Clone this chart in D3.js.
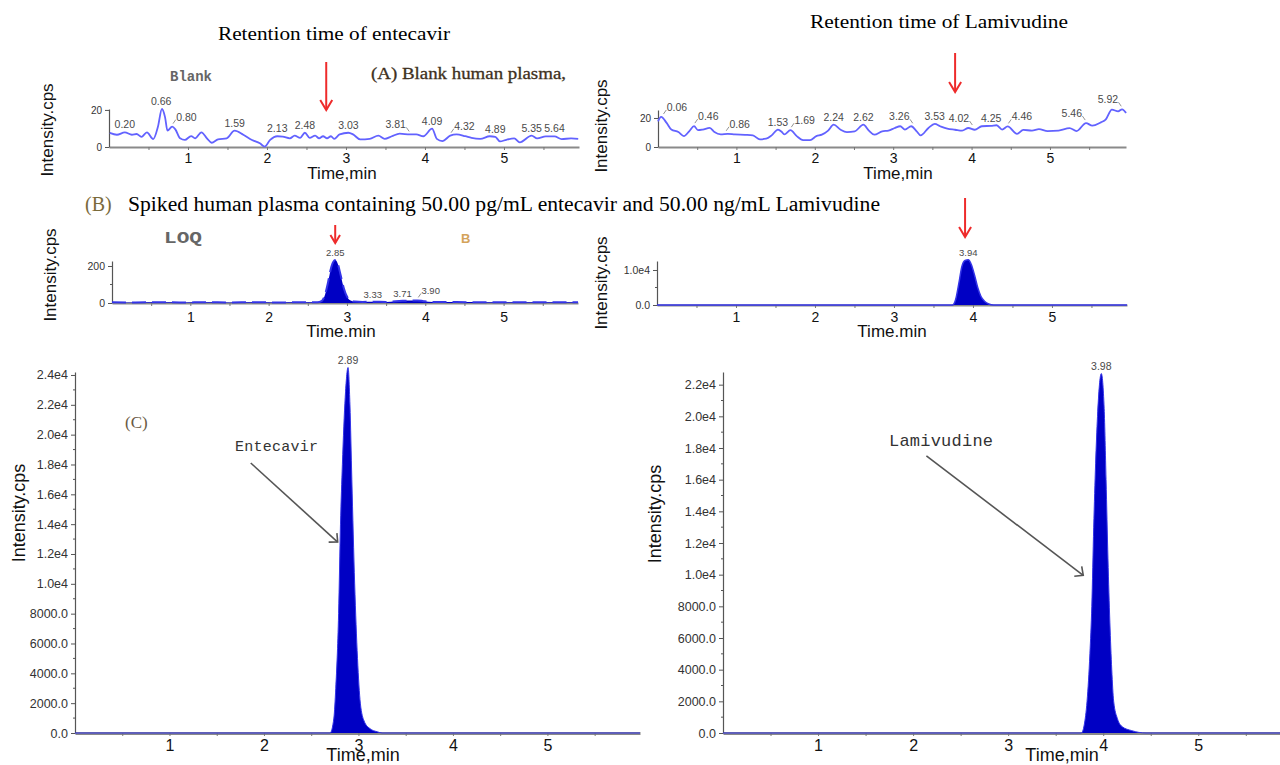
<!DOCTYPE html>
<html>
<head>
<meta charset="utf-8">
<script src="https://cdn.jsdelivr.net/npm/d3@7/dist/d3.min.js"></script>
<style>
  body { margin: 0; background: #fff; }
  svg { display: block; font-family: "Liberation Sans", Arial, sans-serif; }
</style>
</head>
<body>
<svg id="vis" width="1280" height="765"></svg>
<script>
// ---- chromatogram data (time in min, intensity in cps) ----

// (A) blank plasma, entecavir channel
const blankEntTime = [0.01,0.10,0.20,0.29,0.35,0.41,0.48,0.56,0.62,0.67,0.71,0.74,0.80,0.84,0.90,0.96,1.04,1.09,1.17,1.24,
  1.30,1.38,1.49,1.59,1.70,1.81,1.91,1.97,2.04,2.13,2.20,2.29,2.35,2.42,2.48,2.54,2.61,2.66,2.71,2.76,
  2.81,2.85,2.92,3.03,3.09,3.18,3.30,3.41,3.49,3.58,3.68,3.81,3.89,3.98,4.09,4.15,4.22,4.32,4.40,4.51,
  4.59,4.70,4.82,4.89,4.95,5.03,5.13,5.20,5.35,5.42,5.53,5.64,5.73,5.85,5.94];
const blankEntInt = [7.6,6.6,7.9,6.6,7.0,5.5,7.9,4.3,11,20.5,16,8.8,11,9.5,4.7,3.8,5.9,4.7,7.9,4.7,
  2.3,4.1,4.7,8.8,6.6,3.8,2.0,0.2,3.8,5.8,5.6,4.7,6.1,4.9,7.7,4.9,6.1,4.7,5.8,4.7,
  5.8,4.4,6.8,7.7,6.8,4.1,4.4,6.1,4.4,5.8,7.2,6.8,6.8,5.8,9.9,4.4,3.2,6.1,6.8,5.8,
  4.9,4.4,5.8,5.5,3.0,3.9,4.6,2.5,6.1,4.6,5.7,5.7,4.3,4.6,4.4];
const blankEntPeaks = ["0.20","0.66","0.80","1.59","2.13","2.48","3.03","3.81","4.09","4.32","4.89","5.35","5.64"];

// (A) blank plasma, lamivudine channel
const blankLamTime = [0.00,0.04,0.11,0.17,0.26,0.33,0.40,0.46,0.51,0.57,0.66,0.72,0.80,0.89,0.98,1.11,1.21,1.30,1.38,1.45,
  1.53,1.58,1.61,1.69,1.77,1.85,1.94,2.02,2.09,2.17,2.24,2.33,2.41,2.51,2.62,2.69,2.76,2.86,2.94,3.02,
  3.09,3.15,3.23,3.30,3.35,3.45,3.53,3.60,3.69,3.79,3.88,3.96,4.04,4.13,4.25,4.32,4.39,4.46,4.58,4.66,
  4.77,4.86,4.97,5.11,5.25,5.34,5.46,5.54,5.65,5.71,5.79,5.87,5.92,5.97];
const blankLamInt = [17.7,20.7,16.6,12,10.3,7.5,11,14.4,11.6,12,13.2,10.3,8.7,9.1,8.7,8.4,8,5.3,5.7,8,
  12,10.3,8.7,11.6,7.5,4.8,4.8,7.5,8.5,11.3,15.4,11.9,10.3,10.8,15.4,11.3,8.5,10.8,11.3,13.1,
  14.3,12,14.3,10.8,8,13.1,15.9,14.3,12.6,11.9,11.3,13.1,11.9,14.3,14.6,15,12,14.2,9,11.8,
  11.3,12.3,11,11.3,13,11,16.5,14.7,17,18.8,25.7,24.6,26,23.5];
const blankLamPeaks = ["0.06","0.46","0.86","1.53","1.69","2.24","2.62","3.26","3.53","4.02","4.25","4.46","5.46","5.92"];

// (B) LOQ sample
const loqEntTime = [0.00,0.30,0.60,0.90,1.20,1.50,1.80,2.10,2.40,2.62,2.68,2.72,2.76,2.80,2.85,2.88,2.92,2.96,3.00,3.04,
  3.10,3.20,3.33,3.50,3.62,3.71,3.80,3.90,3.98,4.10,4.40,4.80,5.20,5.60,5.95];
const loqEntInt = [4,3,4,3,4,3,4,3,4,4,12,45,115,195,232,215,150,80,35,15,
  8,6,7,6,10,12,13,14,10,6,5,4,4,4,4];
const loqEntPeaks = ["2.85","3.33","3.71","3.90"];

const loqLamTime = [0.00,3.74,3.78,3.82,3.86,3.90,3.94,3.98,4.02,4.06,4.10,4.15,4.20,4.26,5.95];
const loqLamInt = [0,0,1500,6000,11000,12700,12900,11500,8500,5000,2500,1000,300,0,0];
const loqLamPeaks = ["3.94"];

// (C) high standard
const entTime = [0.00,2.70,2.74,2.76,2.79,2.81,2.83,2.86,2.89,2.91,2.93,2.96,2.99,3.02,3.06,3.12,3.20,3.25,5.98];
const entInt = [0,0,1000,3000,8000,14000,18000,22500,24500,22000,17000,10000,5000,2000,800,300,80,0,0];
const entPeaks = ["2.89"];

const lamTime = [0.00,3.77,3.80,3.83,3.86,3.88,3.90,3.92,3.94,3.98,4.01,4.03,4.05,4.07,4.09,4.11,4.15,4.20,4.30,4.45,5.90];
const lamInt = [0,0,500,2000,5000,8000,13000,17000,20000,22700,20500,16000,11000,7000,4000,2000,900,400,150,0,0];
const lamPeaks = ["3.98"];

const xTicks = [1, 2, 3, 4, 5];
// retention times marked with red arrows: A-ent, A-lam, B-ent, B-lam
const markerTimes = [2.75, 3.79, 2.85, 3.90];

// ---- drawing ----
const svg = d3.select("#vis");
const serif = "'Liberation Serif', 'Times New Roman', serif";
const mono = "'Liberation Mono', 'Courier New', monospace";

const fmtE4 = d => d >= 1e4 ? (d / 1e4).toFixed(1) + "e4" : d.toFixed(1);

function panel(p) {
    const g = svg.append("g");
    const x = d3.scaleLinear().domain([0, p.xMax]).range([p.left, p.right]);
    const y = d3.scaleLinear().domain([0, p.yMax]).range([p.base, p.top]);
    const pts = d3.zip(p.time, p.value);

    // x axis with half-minute ticks
    const xa = g.append("g")
        .attr("transform", "translate(0," + p.base + ")")
        .call(d3.axisBottom(x)
            .tickValues(d3.range(0.5, p.xMax, 0.5))
            .tickSize(3).tickSizeOuter(0)
            .tickFormat(d => xTicks.includes(d) ? d : ""));
    xa.select(".domain").attr("stroke", "#8a8a8a").attr("stroke-width", p.xw);
    xa.selectAll(".tick line").attr("stroke", "#777");
    xa.selectAll("text")
        .attr("y", p.xLabOff).attr("dy", 0)
        .attr("font-size", p.xFont).attr("fill", "#111")
        .attr("font-family", "'Liberation Sans', Arial, sans-serif");

    // y axis
    const ya = g.append("g")
        .attr("transform", "translate(" + p.left + ",0)")
        .call(d3.axisLeft(y).tickValues(p.yTicks).tickSize(4).tickSizeOuter(0).tickFormat(p.yFmt));
    ya.select(".domain").attr("stroke", "#555").attr("stroke-width", 1.2);
    ya.selectAll(".tick line").attr("stroke", "#555");
    ya.selectAll("text")
        .attr("font-size", p.yFont).attr("fill", "#333")
        .attr("font-family", "'Liberation Sans', Arial, sans-serif");
    g.selectAll(".minor")
        .data(p.yMinor)
      .enter().append("line")
        .attr("x1", p.left - 2).attr("x2", p.left)
        .attr("y1", d => y(d)).attr("y2", d => y(d))
        .attr("stroke", "#555");

    // trace
    if (p.fill) {
        g.append("path").datum(pts)
            .attr("d", d3.area().x(d => x(d[0])).y0(y(0)).y1(d => y(d[1])).curve(d3.curveMonotoneX))
            .attr("fill", "#0000c4");
    }
    g.append("path").datum(pts)
        .attr("d", d3.line().x(d => x(d[0])).y(d => y(d[1])).curve(d3.curveMonotoneX))
        .attr("fill", "none")
        .attr("stroke", p.fill ? "#3434e8" : "#6262ff")
        .attr("stroke-width", p.lw)
        .attr("stroke-dasharray", p.dash || null);

    // peak retention-time labels
    p.peaks.forEach((lab, i) => {
        const t = +lab;
        const near = pts.filter(d => Math.abs(d[0] - t) <= 0.06);
        const vmax = near.length ? d3.max(near, d => d[1]) : 0;
        const px = x(t), py = y(vmax) - 4;
        const side = p.sides ? p.sides[i] : "m";
        const off = side === "r" ? 4 : side === "l" ? -4 : 0;
        g.append("text")
            .attr("x", px + off)
            .attr("y", side === "m" ? py : py - 2)
            .attr("text-anchor", side === "r" ? "start" : side === "l" ? "end" : "middle")
            .attr("font-size", p.pkFont)
            .attr("fill", "#4a4a4a")
            .text(lab);
        if (side !== "m") {
            g.append("line")
                .attr("x1", px + off * 0.2).attr("y1", py + 1)
                .attr("x2", px + off * 0.9).attr("y2", py - 3)
                .attr("stroke", "#777").attr("stroke-width", 0.8);
        }
    });

    // axis titles
    g.append("text")
        .attr("transform", "translate(" + p.yLabX + "," + p.yLabY + ") rotate(-90)")
        .attr("text-anchor", "middle")
        .attr("dominant-baseline", "central")
        .attr("font-size", p.axFont)
        .attr("fill", "#111")
        .text("Intensity.cps");
    g.append("text")
        .attr("x", p.tLabX).attr("y", p.tLabY)
        .attr("text-anchor", "middle")
        .attr("font-size", p.axFont)
        .attr("fill", "#111")
        .text(p.tLab);

    return {g: g, x: x, y: y};
}

function redArrow(x, y1, y2, head) {
    const g = svg.append("g").attr("stroke", "#ee2b2b").attr("stroke-width", 2).attr("fill", "none");
    g.append("line").attr("x1", x).attr("x2", x).attr("y1", y1).attr("y2", y2);
    g.append("path").attr("d", "M" + (x - head * 0.6) + "," + (y2 - head) + "L" + x + "," + y2 + "L" + (x + head * 0.6) + "," + (y2 - head));
}

function pointer(x1, y1, x2, y2) {
    const a = Math.atan2(y2 - y1, x2 - x1), L = 9, s = 0.75;
    const g = svg.append("g").attr("stroke", "#555").attr("stroke-width", 1.6).attr("fill", "none");
    g.append("line").attr("x1", x1).attr("y1", y1).attr("x2", x2).attr("y2", y2);
    g.append("path").attr("d",
        "M" + (x2 - L * Math.cos(a - s)) + "," + (y2 - L * Math.sin(a - s)) +
        "L" + x2 + "," + y2 +
        "L" + (x2 - L * Math.cos(a + s)) + "," + (y2 - L * Math.sin(a + s)));
}

// (A) blank
const pA1 = panel({time: blankEntTime, value: blankEntInt, peaks: blankEntPeaks,
    sides: ["m","m","r","m","m","m","m","l","m","r","m","m","m"],
    left: 109, right: 579, xMax: 5.95, base: 147, top: 109, yMax: 20.5,
    yTicks: [0, 20], yMinor: [], yFmt: d3.format("d"), yFont: 10,
    xw: 2, xFont: 14, xLabOff: 16, lw: 1.8, pkFont: 10.5, axFont: 17,
    yLabX: 47, yLabY: 130, tLabX: 342, tLabY: 179, tLab: "Time,min"});
const pA2 = panel({time: blankLamTime, value: blankLamInt, peaks: blankLamPeaks,
    sides: ["r","r","r","m","r","m","m","l","m","l","m","r","l","l"],
    left: 658, right: 1126, xMax: 5.97, base: 147, top: 110, yMax: 25.5,
    yTicks: [0, 20], yMinor: [], yFmt: d3.format("d"), yFont: 10,
    xw: 2, xFont: 14, xLabOff: 16, lw: 1.8, pkFont: 10.5, axFont: 17,
    yLabX: 601, yLabY: 126, tLabX: 898, tLabY: 179, tLab: "Time,min"});

// (B) LOQ
const pB1 = panel({time: loqEntTime, value: loqEntInt, peaks: loqEntPeaks, fill: true,
    sides: ["m","m","m","r"], dash: "14,6",
    left: 112, right: 578, xMax: 5.95, base: 303, top: 261, yMax: 227,
    yTicks: [0, 200], yMinor: [100], yFmt: d3.format("d"), yFont: 10.5,
    xw: 2, xFont: 14, xLabOff: 19, lw: 2, pkFont: 9.5, axFont: 17,
    yLabX: 50, yLabY: 275, tLabX: 341, tLabY: 337, tLab: "Time.min"});
const pB2 = panel({time: loqLamTime, value: loqLamInt, peaks: loqLamPeaks, fill: true,
    left: 657, right: 1127, xMax: 5.95, base: 305, top: 261, yMax: 12570,
    yTicks: [0, 10000], yMinor: [5000], yFmt: fmtE4, yFont: 10.5,
    xw: 2, xFont: 14, xLabOff: 17, lw: 1.5, pkFont: 9.5, axFont: 17,
    yLabX: 601, yLabY: 283, tLabX: 892, tLabY: 337, tLab: "Time.min"});

// (C) high standard
const pC1 = panel({time: entTime, value: entInt, peaks: entPeaks, fill: true,
    left: 75, right: 640, xMax: 5.98, base: 733, top: 372, yMax: 24200,
    yTicks: d3.range(0, 24001, 2000), yMinor: d3.range(1000, 24000, 2000), yFmt: fmtE4, yFont: 12.5,
    xw: 3, xFont: 16, xLabOff: 18, lw: 1, pkFont: 10.5, axFont: 18,
    yLabX: 19, yLabY: 513, tLabX: 363, tLabY: 761, tLab: "Time,min"});
const pC2 = panel({time: lamTime, value: lamInt, peaks: lamPeaks, fill: true,
    left: 723, right: 1280, xMax: 5.86, base: 733, top: 372, yMax: 22800,
    yTicks: d3.range(0, 22001, 2000), yMinor: d3.range(1000, 23000, 2000), yFmt: fmtE4, yFont: 12.5,
    xw: 3, xFont: 16, xLabOff: 18, lw: 1, pkFont: 10.5, axFont: 18,
    yLabX: 655, yLabY: 514, tLabX: 1062, tLabY: 761, tLab: "Time,min"});

// red retention-time arrows
redArrow(pA1.x(markerTimes[0]), 62, 110, 10);
redArrow(pA2.x(markerTimes[1]), 53, 92, 10);
redArrow(pB1.x(markerTimes[2]), 225, 243, 8);
redArrow(pB2.x(markerTimes[3]), 198, 237, 10);

// titles and annotations
svg.append("text").attr("x", 218).attr("y", 40).attr("font-family", serif).attr("font-size", 19)
    .attr("textLength", 232).attr("lengthAdjust", "spacingAndGlyphs").text("Retention time of entecavir");
svg.append("text").attr("x", 810).attr("y", 28).attr("font-family", serif).attr("font-size", 19)
    .attr("textLength", 258).attr("lengthAdjust", "spacingAndGlyphs").text("Retention time of Lamivudine");

svg.append("text").attr("x", 170).attr("y", 81).attr("font-family", mono).attr("font-size", 14)
    .attr("font-weight", "bold").attr("fill", "#666").attr("textLength", 42).text("Blank");
svg.append("text").attr("x", 371).attr("y", 79).attr("font-family", serif).attr("font-size", 17)
    .attr("fill", "#3e3020").attr("stroke", "#3e3020").attr("stroke-width", 0.3)
    .attr("textLength", 195).attr("lengthAdjust", "spacingAndGlyphs").text("(A) Blank human plasma,");

svg.append("text").attr("x", 85).attr("y", 211).attr("font-family", serif).attr("font-size", 20)
    .attr("fill", "#7a6a3a").text("(B)");
svg.append("text").attr("x", 128).attr("y", 211).attr("font-family", serif).attr("font-size", 20)
    .attr("textLength", 752).attr("lengthAdjust", "spacingAndGlyphs")
    .text("Spiked human plasma containing 50.00 pg/mL entecavir and 50.00 ng/mL Lamivudine");
svg.append("text").attr("x", 164).attr("y", 243).attr("font-family", mono).attr("font-size", 17)
    .attr("font-weight", "bold").attr("fill", "#666").attr("textLength", 38)
    .attr("lengthAdjust", "spacingAndGlyphs").text("LOQ");
svg.append("text").attr("x", 461).attr("y", 243).attr("font-size", 13).attr("font-weight", "bold")
    .attr("fill", "#d4a35a").text("B");

svg.append("text").attr("x", 125).attr("y", 428).attr("font-family", serif).attr("font-size", 17)
    .attr("fill", "#6a5a44").text("(C)");
svg.append("text").attr("x", 235).attr("y", 451).attr("font-family", mono).attr("font-size", 15)
    .attr("fill", "#333").attr("textLength", 83).text("Entecavir");
svg.append("text").attr("x", 889).attr("y", 446).attr("font-family", mono).attr("font-size", 17)
    .attr("fill", "#333").attr("textLength", 104).text("Lamivudine");

pointer(pC1.x(1.86), pC1.y(18100), pC1.x(2.78), pC1.y(12800));
pointer(pC2.x(2.14), pC2.y(17500), pC2.x(3.79), pC2.y(9960));
</script>
</body>
</html>
